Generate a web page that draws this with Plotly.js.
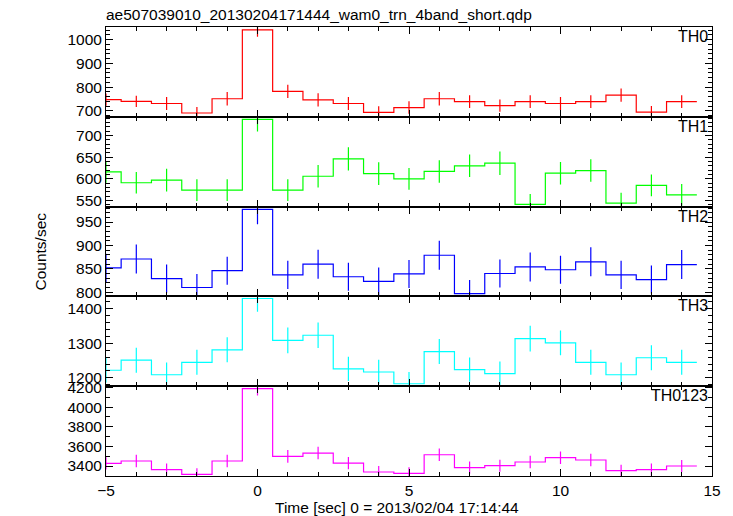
<!DOCTYPE html>
<html>
<head>
<meta charset="utf-8">
<script src="https://cdn.plot.ly/plotly-3.0.1.min.js"></script>
<style>html,body{margin:0;padding:0;background:#fff}#plot{width:733px;height:516px}</style>
</head>
<body>
<div id="plot"></div>
<script>
// ---- data ----
const chartTitle = "ae507039010_20130204171444_wam0_trn_4band_short.qdp";
const xTitle = "Time [sec] 0 = 2013/02/04 17:14:44";
const yTitle = "Counts/sec";
const time = [-5,-4,-3,-2,-1,0,1,2,3,4,5,6,7,8,9,10,11,12,13,14];
const binWidth = 1;
const bandNames = ["TH0","TH1","TH2","TH3","TH0123"];
const th0 = [747,740,731,691,751,1041,782,746,731,694,714,751,739,722,739,731,739,766,695,739];
const th0Err = [26,24,27,25,28,29,28,28,27,25,26,28,27,26,27,27,27,28,25,27];
const th1 = [616,591,597,574,574,737,574,606,646,612,600,617,630,636,541,613,619,544,585,563];
const th1Err = [25,25,26,25,25,28,25,26,27,26,25,26,26,27,24,26,26,24,25,25];
const th2 = [852,871,829,810,846,977,837,860,833,823,839,879,797,840,854,848,865,837,827,859];
const th2Err = [30,31,30,29,30,32,30,31,30,30,30,31,29,30,31,30,31,30,30,31];
const th3 = [1222,1251,1209,1245,1281,1429,1308,1323,1226,1217,1183,1276,1224,1212,1313,1301,1245,1209,1258,1245];
const th3Err = [35,36,35,36,36,38,37,37,35,35,34,36,35,35,37,36,36,35,36,36];
const th0123 = [3427,3451,3363,3315,3451,4190,3498,3532,3430,3339,3325,3515,3383,3403,3441,3485,3461,3352,3363,3400];
const th0123Err = [62,63,62,61,63,70,64,64,63,62,62,64,62,62,63,64,63,62,62,62];

const series = [th0, th1, th2, th3, th0123];
const errors = [th0Err, th1Err, th2Err, th3Err, th0123Err];
const colors = ["#ff0000","#00ff00","#0000ff","#00ffff","#ff00ff"];
const yRanges = [[675,1053],[536,743],[791,983],[1176,1435],[3298,4214]];
const yDticks = [100,50,50,100,200];
const yMinor = [20,10,10,20,100];

const FONT = "Liberation Sans, Arial, Helvetica, sans-serif";

function stepXY(centers, values, w) {
  const xs = [], ys = [];
  centers.forEach((c, i) => {
    xs.push(c - w/2, c + w/2);
    ys.push(values[i], values[i]);
  });
  return {xs, ys};
}

const traces = [];
const layout = {
  width: 733, height: 516,
  margin: {l: 106, r: 21, t: 27, b: 40},
  paper_bgcolor: "#fff", plot_bgcolor: "#fff",
  showlegend: false,
  font: {family: FONT, size: 15.5, color: "#000"},
  title: {text: chartTitle, font: {family: FONT, size: 15.5, color: "#000"},
          xref: "paper", x: 0, xanchor: "left", yref: "container", y: 1 - 15/516, yanchor: "middle"},
  annotations: []
};

const n = series.length;
for (let i = 0; i < n; i++) {
  const sfx = i === 0 ? "" : String(i + 1);
  const xa = "x" + sfx, ya = "y" + sfx;
  const st = stepXY(time, series[i], binWidth);
  traces.push({
    x: st.xs, y: st.ys, xaxis: xa, yaxis: ya, type: "scatter", mode: "lines",
    line: {color: colors[i], width: 1.2}, hoverinfo: "skip"
  });
  traces.push({
    x: time, y: series[i], xaxis: xa, yaxis: ya, type: "scatter", mode: "markers",
    marker: {size: 0.1, color: colors[i], opacity: 0},
    error_y: {type: "data", array: errors[i], visible: true, color: colors[i], thickness: 1.2, width: 0},
    cliponaxis: true, hoverinfo: "skip"
  });
  const top = 1 - i / n, bottom = 1 - (i + 1) / n;
  layout["yaxis" + sfx] = {
    domain: [bottom, top], range: yRanges[i], anchor: xa,
    dtick: yDticks[i], tick0: 0, ticks: "inside", ticklen: 7, tickcolor: "#000", tickwidth: 1,
    minor: {dtick: yMinor[i], tick0: 0, ticks: "inside", ticklen: 4, tickcolor: "#000", tickwidth: 1, showgrid: false},
    showline: true, linecolor: "#000", linewidth: 1, mirror: "ticks",
    showgrid: false, zeroline: false,
    tickfont: {family: FONT, size: 15.5, color: "#000"}
  };
  layout["xaxis" + sfx] = {
    range: [-5, 15], anchor: ya, matches: i === 0 ? undefined : "x",
    dtick: 5, tick0: 0, ticks: "inside", ticklen: 7, tickcolor: "#000", tickwidth: 1,
    minor: {dtick: 1, tick0: 0, ticks: "inside", ticklen: 4, tickcolor: "#000", tickwidth: 1, showgrid: false},
    showline: true, linecolor: "#000", linewidth: 1, mirror: "ticks",
    showgrid: false, zeroline: false,
    showticklabels: i === n - 1,
    tickfont: {family: FONT, size: 15.5, color: "#000"}
  };
  layout.annotations.push({
    text: bandNames[i], xref: "paper", x: 1, xanchor: "right", xshift: -2,
    yref: ya + " domain", y: 1, yanchor: "top", yshift: 1,
    showarrow: false, font: {family: FONT, size: 16, color: "#000"}
  });
}

layout.annotations.push({
  text: yTitle, xref: "paper", x: -66/606, xanchor: "center", yref: "paper", y: 0.5, yanchor: "middle",
  textangle: -90, showarrow: false, font: {family: FONT, size: 15.5, color: "#000"}
});
layout.annotations.push({
  text: xTitle, xref: "paper", x: 0.48, xanchor: "center", yref: "paper", y: 0, yanchor: "top", yshift: -21,
  showarrow: false, font: {family: FONT, size: 15.5, color: "#000"}
});

Plotly.newPlot("plot", traces, layout, {staticPlot: true, displayModeBar: false});
</script>
</body>
</html>
